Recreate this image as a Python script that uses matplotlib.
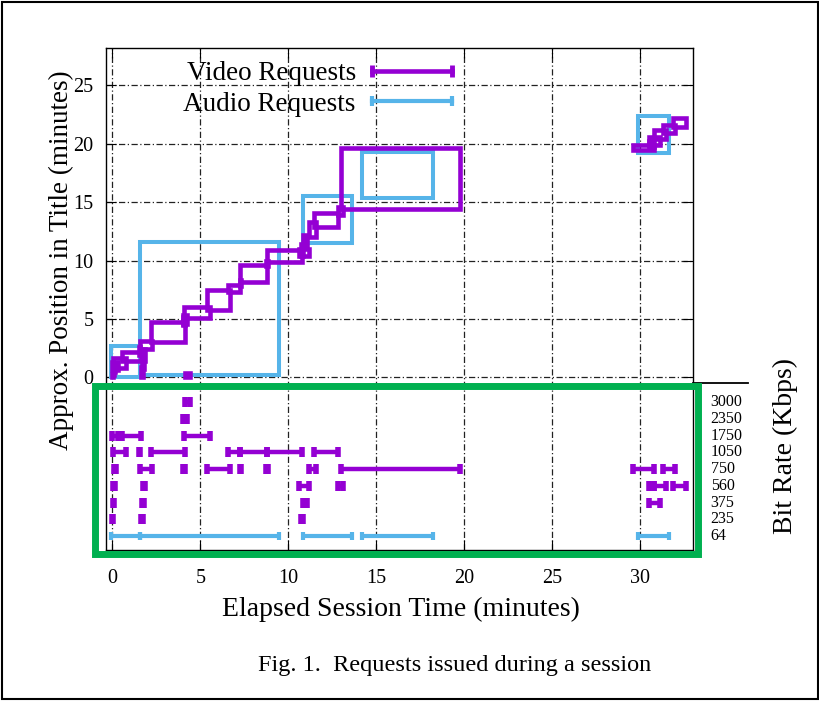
import matplotlib.pyplot as plt
from matplotlib.patches import Rectangle
from matplotlib.lines import Line2D
from matplotlib.legend_handler import HandlerLine2D

plt.rcParams['font.family'] = ['Liberation Serif', 'DejaVu Serif']

PURPLE = '#9400D3'
BLUE = '#56B4E9'
GREEN = '#00B050'

# bit rate levels shown under the main plot (Kbps)
bitrates = [64, 235, 375, 560, 750, 1050, 1750, 2350, 3000]

# video requests: time span (min), title position span (min), bit rate
video_t0 = [0.00, 0.03, 0.06, 0.08, -0.02, 0.05, 0.57, 1.65, 1.70, 1.75, 1.52, 1.55,
            2.18, 4.03, 4.15, 4.00, 4.05, 5.40, 6.55, 7.26, 7.24, 8.72, 8.77,
            10.60, 10.72, 10.82, 11.15, 11.45, 12.80, 13.00,
            29.60, 30.48, 30.48, 30.77, 31.28, 31.85]
video_t1 = [0.06, 0.10, 0.15, 0.22, 0.30, 0.80, 1.65, 1.72, 1.80, 1.87, 1.60, 2.28,
            4.15, 4.12, 4.42, 4.25, 5.53, 6.67, 7.24, 7.34, 8.77, 8.82, 10.80,
            11.20, 10.85, 11.05, 11.55, 12.85, 13.10, 19.75,
            30.77, 30.77, 31.10, 31.45, 32.00, 32.60]
video_p0 = [0.0, 0.2, 0.5, 0.8, 0.6, 0.8, 1.4, 0.0, 0.7, 1.4, 1.9, 2.4,
            3.0, 4.5, 0.0, 4.6, 5.1, 5.8, 7.3, 7.8, 8.2, 9.5, 9.9,
            10.4, 10.4, 11.2, 12.0, 12.9, 13.9, 14.4,
            19.5, 19.7, 19.9, 20.4, 20.9, 21.4]
video_p1 = [0.3, 0.6, 0.9, 1.2, 1.3, 1.7, 2.2, 0.9, 1.6, 2.4, 2.6, 3.1,
            4.7, 5.2, 0.4, 5.3, 6.0, 7.5, 7.9, 8.3, 9.6, 10.0, 10.9,
            11.0, 11.4, 12.2, 13.3, 14.1, 14.6, 19.6,
            19.9, 20.2, 20.6, 21.2, 21.6, 22.2]
video_kbps = [235, 375, 560, 750, 1750, 1050, 1750, 235, 375, 560, 1050, 750,
              1050, 750, 3000, 2350, 1750, 750, 1050, 750, 1050, 750, 1050,
              560, 235, 375, 750, 1050, 560, 750,
              750, 560, 375, 560, 750, 560]

# audio requests
audio_t0 = [-0.05, 1.60, 10.85, 14.20, 29.85]
audio_t1 = [1.60, 9.50, 13.60, 18.20, 31.65]
audio_p0 = [0.0, 0.2, 11.5, 15.4, 19.2]
audio_p1 = [2.7, 11.6, 15.5, 19.3, 22.4]
audio_kbps = [64, 64, 64, 64, 64]


def level_y(kbps):
    return -13.58 + bitrates.index(kbps) * 1.43


fig = plt.figure(figsize=(8.2, 7.01), dpi=100)
ax = fig.add_axes([106 / 820, 1 - 550 / 701, 587 / 820, 502 / 701])
ax.set_xlim(-0.36, 33.0)
ax.set_ylim(-14.78, 28.2)

# request boxes in the upper part
for t0, t1, p0, p1 in zip(audio_t0, audio_t1, audio_p0, audio_p1):
    ax.add_patch(Rectangle((t0, p0), t1 - t0, p1 - p0, fill=False,
                           ec=BLUE, lw=2.9, joinstyle='miter'))
for t0, t1, p0, p1 in zip(video_t0, video_t1, video_p0, video_p1):
    ax.add_patch(Rectangle((t0, p0), t1 - t0, p1 - p0, fill=False,
                           ec=PURPLE, lw=3.3, joinstyle='miter'))

# bit rate bars in the lower part
ax.errorbar([(a + b) / 2 for a, b in zip(audio_t0, audio_t1)],
            [level_y(k) for k in audio_kbps],
            xerr=[(b - a) / 2 for a, b in zip(audio_t0, audio_t1)],
            fmt='none', ecolor=BLUE, elinewidth=3, capsize=3, capthick=3)
ax.errorbar([(a + b) / 2 for a, b in zip(video_t0, video_t1)],
            [level_y(k) for k in video_kbps],
            xerr=[(b - a) / 2 for a, b in zip(video_t0, video_t1)],
            fmt='none', ecolor=PURPLE, elinewidth=3.2, capsize=3.6, capthick=4)

for k in bitrates:
    ax.text(1.03, level_y(k), str(k), transform=ax.get_yaxis_transform(),
            ha='left', va='center', fontsize=11.5)

ax.set_xticks(range(0, 31, 5))
ax.set_yticks(range(0, 26, 5))
ax.set_axisbelow(True)
ax.grid(True, ls=(0, (5, 2, 1, 2)), lw=0.9, color='#222222')
ax.tick_params(direction='in', length=7, top=True, right=True, labelsize=14.5)
ax.tick_params(axis='x', pad=14)
ax.tick_params(axis='y', pad=9)
for s in ax.spines.values():
    s.set_linewidth(1.0)

ax.plot([1.0, 1.094], [-0.45, -0.45], transform=ax.get_yaxis_transform(),
        color='black', lw=1.3, clip_on=False)

hv = Line2D([], [], color=PURPLE, lw=3.3, marker='|', markersize=8, markeredgewidth=3.5)
ha = Line2D([], [], color=BLUE, lw=3, marker='|', markersize=7, markeredgewidth=3)
ax.legend([hv, ha], ['Video Requests', 'Audio Requests'], loc='upper right',
          bbox_to_anchor=(452 / 820, 1 - 61 / 701), bbox_transform=fig.transFigure,
          frameon=False, markerfirst=False, fontsize=19.5, handlelength=2.95,
          handletextpad=0.6, labelspacing=0.22, borderpad=0, borderaxespad=0,
          handler_map={hv: HandlerLine2D(numpoints=2, marker_pad=0),
                       ha: HandlerLine2D(numpoints=2, marker_pad=0)})

fig.text(401 / 820, 1 - 609 / 701, 'Elapsed Session Time (minutes)',
         ha='center', va='center', fontsize=20)
fig.text(61 / 820, 1 - 260 / 701, 'Approx. Position in Title (minutes)',
         rotation=90, ha='center', va='center', fontsize=19.5)
fig.text(785 / 820, 1 - 446 / 701, 'Bit Rate (Kbps)',
         rotation=90, ha='center', va='center', fontsize=20)
fig.text(455 / 820, 1 - 666 / 701, 'Fig. 1.  Requests issued during a session',
         ha='center', va='center', fontsize=17.5)

fig.add_artist(Rectangle((95 / 820, 1 - 554 / 701), 603 / 820, 168 / 701,
                         transform=fig.transFigure, fill=False, ec=GREEN, lw=5))
fig.add_artist(Rectangle((2 / 820, 2 / 701), 816 / 820, 697 / 701,
                         transform=fig.transFigure, fill=False, ec='black', lw=1.5))

fig.savefig('out.png', dpi=100)
